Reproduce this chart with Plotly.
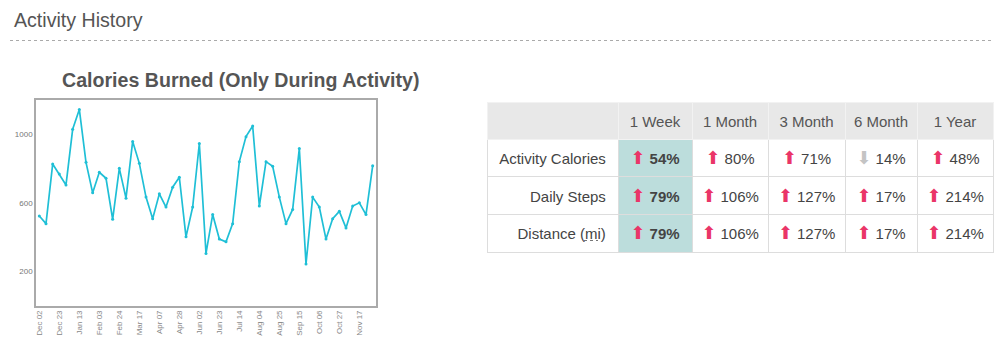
import plotly.graph_objects as go

# ---------------- data ----------------
week_labels = [
    "Dec 02", "Dec 09", "Dec 16", "Dec 23", "Dec 30", "Jan 06", "Jan 13", "Jan 20", "Jan 27",
    "Feb 03", "Feb 10", "Feb 17", "Feb 24", "Mar 03", "Mar 10", "Mar 17", "Mar 24", "Mar 31",
    "Apr 07", "Apr 14", "Apr 21", "Apr 28", "May 12", "May 19", "Jun 02", "Jun 09", "Jun 16",
    "Jun 23", "Jun 30", "Jul 07", "Jul 14", "Jul 21", "Jul 28", "Aug 04", "Aug 11", "Aug 18",
    "Aug 25", "Sep 01", "Sep 08", "Sep 15", "Sep 22", "Sep 29", "Oct 06", "Oct 13", "Oct 20",
    "Oct 27", "Nov 03", "Nov 10", "Nov 17", "Nov 24", "Dec 01",
]
calories = [
    523, 478, 826, 768, 704, 1029, 1145, 836, 658, 778, 743, 503, 801, 627, 958, 830, 633,
    507, 652, 575, 691, 749, 401, 575, 946, 304, 531, 388, 372, 478, 840, 986, 1048, 581,
    840, 813, 633, 478, 561, 917, 243, 633, 575, 388, 507, 550, 453, 581, 600, 531, 816,
]
tick_labels = ["Dec 02", "Dec 23", "Jan 13", "Feb 03", "Feb 24", "Mar 17", "Apr 07", "Apr 28",
               "Jun 02", "Jun 23", "Jul 14", "Aug 04", "Aug 25", "Sep 15", "Oct 06", "Oct 27",
               "Nov 17"]
y_ticks = [200, 600, 1000]

metrics = ["Activity Calories", "Daily Steps", "Distance (mi)"]
periods = ["1 Week", "1 Month", "3 Month", "6 Month", "1 Year"]
changes = {
    "1 Week": [54, 79, 79],
    "1 Month": [80, 106, 106],
    "3 Month": [71, 127, 127],
    "6 Month": [14, 17, 17],
    "1 Year": [48, 214, 214],
}
direction = {
    "1 Week": ["up", "up", "up"],
    "1 Month": ["up", "up", "up"],
    "3 Month": ["up", "up", "up"],
    "6 Month": ["down", "up", "up"],
    "1 Year": ["up", "up", "up"],
}

# ---------------- styling ----------------
W, H = 998, 362
FONT = "Liberation Sans, Arial, sans-serif"
LINE_COLOR = "#1fbfd6"
UP_COLOR = "#ea3568"
DOWN_COLOR = "#c4c4c4"
TEXT = "#444444"
TEAL = "#bcdddc"
NB = "\u00a0"
# invisible "strut" that gives every cell the same line box as the arrow cells
STRUT = "<span style='font-family:DejaVu Sans;font-size:18px;color:rgba(0,0,0,0)'>.</span>"


def px(x):
    return x / W


def py(y):
    return 1 - y / H


def no_wrap(s):
    # trailing <br> stops plotly's table from auto-wrapping (which splits html tags)
    return f"{s}<br>"


fig = go.Figure()

fig.add_trace(go.Scatter(
    x=week_labels, y=calories, mode="lines+markers",
    line=dict(color=LINE_COLOR, width=1.7),
    marker=dict(size=3, color=LINE_COLOR),
    hoverinfo="x+y", showlegend=False,
))


def cell_text(period, i):
    up = direction[period][i] == "up"
    arrow_col = UP_COLOR if up else DOWN_COLOR
    arrow = "⬆" if up else "⬇"
    val = f"{changes[period][i]}%"
    if period == "1 Week":
        val = f"<b>{val}</b>"
    return no_wrap(
        f"<span style='color:{arrow_col};font-size:18px;font-family:DejaVu Sans'>{arrow}</span> {val}")


label_col = [no_wrap(STRUT + m + NB) for m in metrics]
columns = [label_col] + [[cell_text(p, i) for i in range(len(metrics))] for p in periods]
fills = [["white"] * 3] + [[TEAL if p == "1 Week" else "white"] * 3 for p in periods]
header_vals = [""] + [no_wrap(STRUT + p + STRUT) for p in periods]

fig.add_trace(go.Table(
    domain=dict(x=[px(487), px(993)], y=[py(360), py(102)]),
    columnwidth=[131, 74, 76, 77, 72, 76],
    header=dict(
        values=header_vals,
        fill_color="#e8e8e8",
        line=dict(color="#f2f2f2", width=1),
        font=dict(family=FONT, size=15, color="#555555"),
        align="center",
        height=36,
    ),
    cells=dict(
        values=columns,
        fill_color=fills,
        line=dict(color="#dddddd", width=1),
        font=dict(family=FONT, size=15, color=TEXT),
        align=["right"] + ["center"] * 5,
        height=37.7,
    ),
))

fig.update_layout(
    width=W, height=H,
    margin=dict(l=0, r=0, t=0, b=0),
    paper_bgcolor="white", plot_bgcolor="white",
    font=dict(family=FONT, color=TEXT),
    xaxis=dict(
        domain=[px(36), px(376)],
        type="category",
        range=[-0.5, len(week_labels) - 0.5],
        tickmode="array", tickvals=tick_labels, ticktext=tick_labels,
        tickangle=-90, tickfont=dict(size=8, color="#888888"),
        showgrid=False, zeroline=False,
        showline=True, mirror=True, linecolor="#aaaaaa", linewidth=1.5,
        ticks="",
    ),
    yaxis=dict(
        domain=[py(305.5), py(100)],
        range=[0, 1200],
        tickmode="array", tickvals=y_ticks,
        tickfont=dict(size=8, color="#777777"),
        showgrid=False, zeroline=False,
        showline=True, mirror=True, linecolor="#aaaaaa", linewidth=1.5,
        ticks="",
    ),
    annotations=[
        dict(text="Activity History", x=px(12), y=py(20), xref="paper", yref="paper",
             xanchor="left", yanchor="middle", showarrow=False,
             font=dict(family=FONT, size=19.6, color="#555555")),
        dict(text="<b>Calories Burned (Only During Activity)</b>", x=px(240), y=py(80),
             xref="paper", yref="paper", xanchor="center", yanchor="middle", showarrow=False,
             font=dict(family=FONT, size=19.6, color="#555555")),
    ],
    shapes=[
        dict(type="line", xref="paper", yref="paper", x0=px(10), x1=px(993),
             y0=py(40.5), y1=py(40.5), line=dict(color="#aaaaaa", width=1, dash="dot")),
        dict(type="line", xref="paper", yref="paper", x0=px(584), x1=px(598),
             y0=py(240.5), y1=py(240.5), line=dict(color="#777777", width=1, dash="dot")),
    ],
)

fig.write_html("out.html", config={"displayModeBar": False},
               post_script="document.body.style.margin='0';")
